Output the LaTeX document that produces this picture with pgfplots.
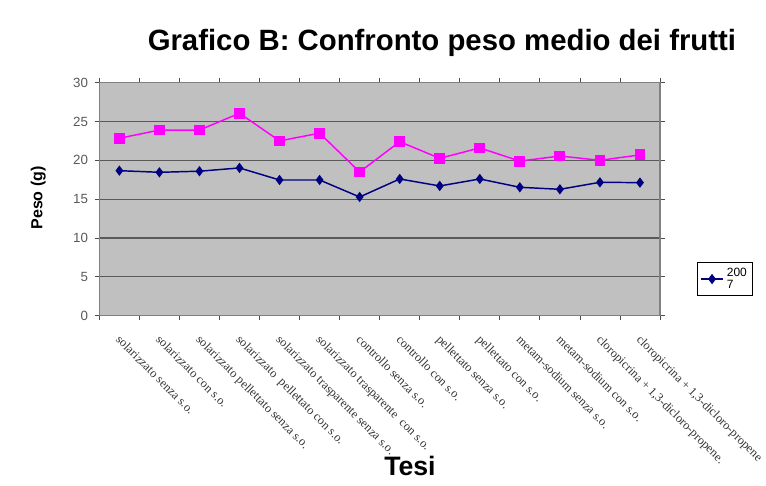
\documentclass[border=0pt]{standalone}
\usepackage{fontspec}
\setmainfont{Liberation Sans}
\newfontfamily\seriff{Liberation Serif}
\usepackage{pgfplots}
\pgfplotsset{compat=1.18}
\definecolor{plotbg}{HTML}{C0C0C0}
\definecolor{navyc}{HTML}{000080}
\definecolor{magen}{HTML}{FF00FF}
\begin{document}
\begin{tikzpicture}[x=1pt,y=1pt]
\path[use as bounding box] (0,0) rectangle (574.5,363.75);
\begin{axis}[
  at={(74.5pt,127pt)}, anchor=south west,
  scale only axis, width=420.5pt, height=174.75pt,
  xmin=0.5, xmax=14.5, ymin=0, ymax=30,
  ytick={0,5,...,30},
  xtick={0.5,1.5,...,14.5}, xticklabels={},
  extra x ticks={1,2,...,14},
  extra x tick labels={solarizzato senza s.o.,solarizzato con s.o.,solarizzato pellettato senza s.o.,solarizzato\ \ pellettato con s.o.,solarizzato trasparente senza s.o.,solarizzato trasparente\ \ con s.o.,controllo senza s.o.,controllo con s.o.,pellettato senza s.o.,pellettato con s.o.,metam-sodium senza s.o.,metam-sodium con s.o.,{cloropicrina + 1,3-dicloro-propene.},{cloropicrina + 1,3-dicloro-propene}},
  extra x tick style={major tick length=0pt, tick label style={font=\seriff\fontsize{9.3}{10}\selectfont, text=black!80, rotate=-45, anchor=north west, xshift=7.6pt, yshift=-5.3pt}},
  tick align=outside, major tick length=3.5pt,
  ymajorgrids, grid style={black!65, line width=0.9pt},
  axis background/.style={fill=plotbg},
  axis line style={black!50, line width=0.8pt},
  tick style={black!70, line width=0.6pt},
  y tick label style={font=\fontsize{10}{11}\selectfont, text=black!65, xshift=-1.5pt},
  /pgf/number format/assume math mode=true,
  title={Grafico B: Confronto peso medio dei frutti},
  title style={at={(axis description cs:0.611,1.136)}, anchor=center, font=\bfseries\fontsize{22}{24}\selectfont},
  ylabel={Peso (g)},
  ylabel style={at={(axis description cs:-0.109,0.505)}, anchor=center, font=\bfseries\fontsize{12}{14}\selectfont},
  xlabel={Tesi},
  xlabel style={at={(axis description cs:0.554,-0.645)}, anchor=center, font=\bfseries\fontsize{20}{22}\selectfont},
  legend style={at={(axis description cs:1.066,0.23)}, anchor=north west, draw=black, fill=white, font=\fontsize{9}{10}\selectfont, inner sep=2pt},
  legend cell align=left,
]
\addplot[color=navyc, line width=1.1pt, mark=diamond*, mark size=3pt, mark options={fill=navyc}]
coordinates {(1,18.67) (2,18.46) (3,18.6) (4,19.02) (5,17.47) (6,17.47) (7,15.28) (8,17.6) (9,16.7) (10,17.6) (11,16.53) (12,16.27) (13,17.17) (14,17.13)};
\addlegendentry{\shortstack[l]{200\\7}}
\addplot[color=magen, line width=1.1pt, mark=square*, mark size=3.5pt, mark options={fill=magen}, forget plot]
coordinates {(1,22.84) (2,23.9) (3,23.9) (4,26.06) (5,22.5) (6,23.5) (7,18.5) (8,22.4) (9,20.26) (10,21.6) (11,19.9) (12,20.56) (13,20.0) (14,20.7)};
\end{axis}
\end{tikzpicture}
\end{document}
